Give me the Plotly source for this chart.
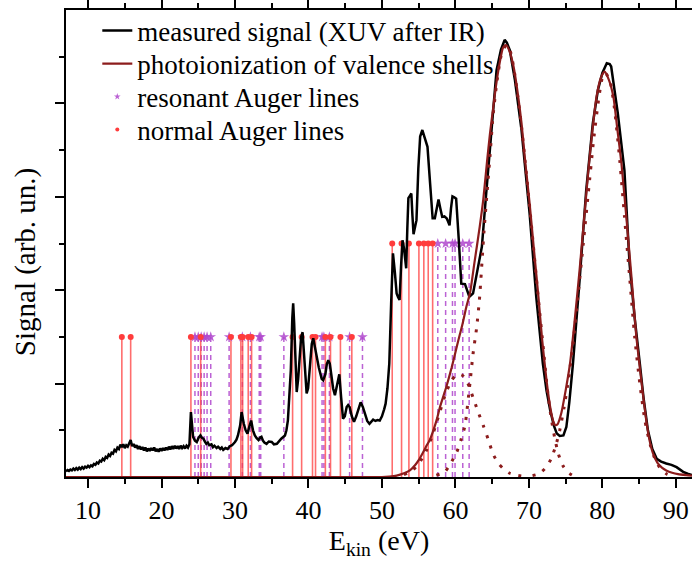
import plotly.graph_objects as go

# ---------------- data ----------------
meas_E = [7.0, 7.2, 7.4, 7.6, 7.8, 8.0, 8.2, 8.4, 8.6, 8.8, 9.0, 9.2, 9.4, 9.6, 9.8, 10.0, 10.2, 10.4, 10.6, 10.8,
          11.0, 11.2, 11.4, 11.6, 11.8, 12.0, 12.2, 12.4, 12.6, 12.8, 13.0, 13.2, 13.4, 13.6, 13.8, 14.0, 14.2, 14.4,
          14.6, 14.8, 15.0, 15.2, 15.4, 15.6, 15.8, 16.0, 16.2, 16.4, 16.6, 16.8, 17.0, 17.2, 17.4, 17.6, 17.8, 18.0,
          18.2, 18.4, 18.6, 18.8, 19.0, 19.2, 19.4, 19.6, 19.8, 20.0, 20.2, 20.4, 20.6, 20.8, 21.0, 21.2, 21.4, 21.6,
          21.8, 22.0, 22.2, 22.4, 22.6, 22.8, 23.0, 23.2, 23.4, 23.6, 23.8, 24.0,
          24.3, 24.55, 24.8, 25.05, 25.3, 25.5, 25.7, 25.9, 26.1, 26.3, 26.5, 26.8, 27.0, 27.2, 27.5, 27.7, 28.0,
          28.2, 28.4, 28.7, 29.0, 29.3, 29.6, 30.0, 30.2, 30.4, 30.7, 30.9, 31.05, 31.2, 31.45, 31.7, 31.95, 32.2,
          32.45, 32.7, 32.95, 33.2, 33.4, 33.6, 33.8, 34.0, 34.3, 34.6, 35.0, 35.3, 35.7, 36.0, 36.3, 36.8, 37.0,
          37.2, 37.4, 37.6, 37.8, 37.92, 38.05, 38.2, 38.4, 38.6, 38.8, 39.0, 39.2, 39.4, 39.6, 39.75, 39.95, 40.2,
          40.45, 40.65, 40.85, 41.1, 41.4, 41.8, 42.0, 42.3, 42.5, 42.7, 42.9, 43.1, 43.35, 43.6, 43.9, 44.2, 44.45,
          44.7, 44.95, 45.2, 45.4, 45.6, 45.9, 46.2, 46.5, 46.8, 47.1, 47.4, 47.7, 48.0, 48.3, 48.6, 48.8, 49.1,
          49.4, 49.7, 50.0, 50.3, 50.5, 50.75, 51.0, 51.25, 51.5, 51.75, 52.0, 52.2, 52.4, 52.6, 52.8, 53.0, 53.15,
          53.3, 53.45, 53.6, 53.8, 54.0, 54.15, 54.3, 54.5, 54.7, 54.95, 55.2, 55.5, 55.85, 56.2, 56.55, 56.9, 57.2,
          57.45, 57.7, 57.95, 58.2, 58.5, 58.8, 59.0, 59.2, 59.4, 59.6, 59.85, 60.1, 60.45, 60.8, 61.3, 61.6, 61.9,
          62.4, 63.0, 63.6, 64.1, 64.7, 65.1, 65.6, 66.2, 66.7, 67.0, 67.4, 68.1, 69.0, 70.1, 71.0, 71.9, 72.4,
          72.9, 73.4, 73.8, 74.2, 74.7, 75.1, 75.5, 76.0, 76.9, 77.8, 78.7, 79.4, 80.0, 80.6, 81.0, 81.2, 82.1,
          83.0, 83.7, 84.4, 85.1, 85.6, 86.2, 86.8, 87.4, 88.0, 88.7, 89.4, 90.1, 90.6, 91.0, 91.6, 92.2]
meas_S = [0.12, 0.15, 0.13, 0.16, 0.14, 0.18, 0.15, 0.19, 0.16, 0.20, 0.17, 0.21, 0.18, 0.22, 0.20, 0.24, 0.21, 0.25,
          0.23, 0.28, 0.26, 0.31, 0.29, 0.35, 0.33, 0.39, 0.36, 0.43, 0.41, 0.48, 0.45, 0.52, 0.50, 0.58, 0.55, 0.63,
          0.60, 0.69, 0.64, 0.70, 0.62, 0.68, 0.65, 0.73, 0.79, 0.66, 0.71, 0.63, 0.68, 0.60, 0.66, 0.59, 0.64, 0.57,
          0.63, 0.55, 0.61, 0.56, 0.62, 0.57, 0.63, 0.55, 0.60, 0.54, 0.61, 0.56, 0.62, 0.57, 0.63, 0.58, 0.65, 0.59,
          0.66, 0.60, 0.67, 0.61, 0.66, 0.60, 0.67, 0.62, 0.66, 0.61, 0.67, 0.63, 0.70, 1.39,
          0.86, 0.78, 0.75, 0.84, 0.89, 0.84, 0.82, 0.76, 0.71, 0.74, 0.68, 0.70, 0.64, 0.67, 0.62, 0.65, 0.60,
          0.63, 0.58, 0.62, 0.60, 0.66, 0.68, 0.75, 0.80, 0.89, 1.10, 1.39, 1.25, 1.14, 1.00, 0.93, 1.08, 1.21,
          1.00, 0.89, 0.83, 0.79, 0.84, 0.86, 0.78, 0.74, 0.71, 0.76, 0.75, 0.70, 0.71, 0.77, 0.82, 0.89, 1.00,
          1.21, 1.70, 2.29, 3.40, 3.72, 3.30, 2.50, 1.82, 2.10, 2.60, 3.00, 3.10, 2.60, 2.00, 1.79, 1.90, 2.40,
          2.85, 2.97, 2.80, 2.64, 2.35, 2.10, 2.07, 2.20, 2.42, 2.50, 2.43, 2.20, 1.90, 1.75, 1.95, 2.20, 1.70,
          1.25, 1.30, 1.50, 1.54, 1.50, 1.30, 1.18, 1.30, 1.45, 1.60, 1.50, 1.35, 1.20, 1.14, 1.20, 1.23, 1.20,
          1.22, 1.21, 1.30, 1.45, 1.57, 1.90, 2.43, 3.70, 4.79, 4.40, 3.93, 3.85, 3.79, 4.50, 5.07, 4.90, 4.60,
          4.47, 5.30, 5.97, 6.02, 6.07, 5.60, 5.20, 5.35, 5.50, 6.60, 7.29, 7.43, 7.25, 7.07, 6.30, 5.54, 5.54,
          5.75, 5.94, 5.75, 5.57, 5.58, 5.54, 5.47, 5.39, 5.75, 6.01, 5.99, 5.96, 5.10, 4.14, 4.13, 3.98, 3.86,
          3.93, 4.40, 4.93, 5.90, 7.07, 7.90, 8.71, 9.15, 9.36, 9.30, 9.14, 8.50, 7.43, 5.64, 3.86, 2.43, 1.85,
          1.43, 1.10, 0.93, 0.88, 0.89, 1.07, 1.60, 2.43, 4.21, 6.14, 7.57, 8.29, 8.65, 8.86, 8.84, 8.79, 7.79,
          6.57, 4.57, 3.40, 2.43, 1.70, 1.00, 0.60, 0.39, 0.33, 0.29, 0.26, 0.21, 0.16, 0.11, 0.07, 0.04]

fit_E = [7.0, 50.0, 51.0, 52.0, 53.0, 53.8, 54.5, 55.0, 55.5, 56.0, 56.5, 57.0, 57.5, 57.9, 58.4, 58.8, 59.5, 60.2,
         60.6, 61.0, 61.5, 62.0, 62.6, 63.3, 63.8, 64.3, 64.7, 65.1, 65.5, 66.0, 66.5, 66.9, 67.4, 67.9, 68.5,
         69.0, 69.5, 70.1, 70.7, 71.3, 71.8, 72.4, 72.9, 73.3, 73.6, 73.9, 74.4, 75.0, 75.6, 76.2, 76.9, 77.5,
         78.1, 78.7, 79.2, 79.8, 80.3, 80.9, 81.5, 82.0, 82.6, 83.3, 84.0, 84.6, 85.3, 85.9, 86.4, 86.9, 87.5,
         88.1, 88.7, 89.5, 90.3, 91.4, 92.2]
fit_S = [0.0, 0.0, 0.01, 0.03, 0.08, 0.14, 0.25, 0.36, 0.50, 0.65, 0.79, 1.00, 1.25, 1.50, 1.75, 1.95, 2.35, 2.80,
         3.05, 3.30, 3.65, 3.95, 4.60, 5.35, 5.95, 6.75, 7.35, 7.85, 8.35, 8.85, 9.20, 9.25, 9.10, 8.80, 8.20,
         7.57, 6.75, 5.86, 4.85, 3.86, 2.95, 2.07, 1.50, 1.20, 1.11, 1.13, 1.36, 1.85, 2.43, 3.30, 4.43, 5.50,
         6.57, 7.50, 8.14, 8.55, 8.68, 8.50, 8.14, 7.50, 6.71, 5.50, 4.21, 3.05, 2.07, 1.30, 0.80, 0.50, 0.30,
         0.20, 0.14, 0.09, 0.06, 0.04, 0.03]

# dotted fit components
compA_E = [53.0, 54.0, 55.0, 56.0, 57.0, 57.8, 58.6, 59.4, 60.0, 60.5, 61.0, 61.7, 62.4, 63.1, 63.8, 64.5, 65.1,
           65.8, 66.5, 67.4, 68.3, 69.5]
compA_S = [0.05, 0.12, 0.28, 0.55, 0.95, 1.35, 1.75, 2.05, 2.17, 2.20, 2.17, 2.00, 1.70, 1.39, 1.10, 0.79, 0.50,
           0.30, 0.18, 0.08, 0.04, 0.01]
compB_E = [57.4, 58.5, 59.2, 60.2, 60.8, 61.3, 62.0, 62.4, 62.9, 63.3, 63.9, 64.7, 65.1, 65.6, 66.2, 66.9, 67.5,
           68.1, 69.0, 70.1, 71.3, 72.0, 72.5, 73.0, 73.5, 74.0, 74.6, 75.3, 76.0]
compB_S = [0.04, 0.10, 0.25, 0.54, 0.82, 1.10, 2.04, 2.64, 3.21, 3.86, 5.28, 6.86, 7.70, 8.40, 9.00, 9.25, 9.10,
           8.60, 7.50, 5.80, 3.80, 2.70, 1.90, 1.30, 0.85, 0.50, 0.25, 0.10, 0.03]
compC_E = [70.5, 71.2, 71.8, 72.4, 73.0, 73.6, 74.2, 74.8, 75.4, 76.0, 76.7, 77.4, 78.1, 78.8, 79.5, 80.0, 80.4,
           81.0, 81.6, 82.3, 83.0, 83.7, 84.4, 85.1, 85.8, 86.5, 87.2, 88.0, 88.8, 89.6]
compC_S = [0.03, 0.06, 0.12, 0.22, 0.38, 0.64, 1.00, 1.50, 2.10, 2.85, 3.90, 5.00, 6.10, 7.20, 8.10, 8.55, 8.65,
           8.50, 7.95, 6.90, 5.60, 4.30, 3.00, 2.00, 1.20, 0.70, 0.37, 0.16, 0.06, 0.02]

# Auger line energies (eV) and marker heights (arb. un.)
normal_E = [14.6, 15.8, 24.0, 25.33, 29.45, 30.8, 31.04, 31.8, 32.26, 37.84, 39.07, 40.55, 40.96, 42.3, 43.0,
            44.35, 45.9, 51.4, 52.67, 53.67, 55.03, 55.7, 56.3, 56.9]
normal_H = [3.0] * 17 + [5.0] * 7
reson_E = [24.55, 25.0, 25.4, 25.8, 26.2, 26.7, 29.2, 31.0, 32.1, 33.3, 33.5, 36.65, 41.85, 42.1, 42.85, 45.6,
           47.35, 57.6, 58.67, 59.6, 59.95, 61.0, 61.87]
reson_H = [3.0] * 17 + [5.0] * 6

x_ticks = [10, 20, 30, 40, 50, 60, 70, 80, 90]

# ---------------- figure ----------------
FONT = "Liberation Serif"
RED_LINE = "rgba(255,60,60,0.75)"
RED_DOT = "rgb(255,60,60)"
PURPLE = "rgba(175,70,205,0.85)"
DARKRED = "#8c1c1c"


def sticks(es, hs):
    xs, ys = [], []
    for e, h in zip(es, hs):
        xs += [e, e, None]
        ys += [0, h, None]
    return xs, ys


fig = go.Figure()

rx, ry = sticks(reson_E, reson_H)
fig.add_trace(go.Scatter(x=rx, y=ry, mode="lines", showlegend=False, hoverinfo="skip",
                         line=dict(color=PURPLE, width=1.5, dash="5px,4px")))
nx, ny = sticks(normal_E, normal_H)
fig.add_trace(go.Scatter(x=nx, y=ny, mode="lines", showlegend=False, hoverinfo="skip",
                         line=dict(color=RED_LINE, width=1.6)))
fig.add_trace(go.Scatter(x=reson_E, y=reson_H, mode="markers", showlegend=False,
                         marker=dict(symbol="star", size=8, color=PURPLE, line=dict(width=0))))
fig.add_trace(go.Scatter(x=normal_E, y=normal_H, mode="markers", showlegend=False,
                         marker=dict(symbol="circle", size=6, color=RED_DOT, line=dict(width=0))))

fig.add_trace(go.Scatter(x=meas_E, y=meas_S, mode="lines", name="measured signal (XUV after IR)",
                         legend="legend", line=dict(color="black", width=2.5)))
fig.add_trace(go.Scatter(x=fit_E, y=fit_S, mode="lines", name="photoionization of valence shells",
                         legend="legend2",
                         line=dict(color=DARKRED, width=2.2, shape="spline", smoothing=0.6)))
for ce, cs in [(compA_E, compA_S), (compB_E, compB_S), (compC_E, compC_S)]:
    fig.add_trace(go.Scatter(x=ce, y=cs, mode="lines", showlegend=False, hoverinfo="skip",
                             line=dict(color=DARKRED, width=3, dash="3px,8px", shape="spline", smoothing=0.6)))

# legend-only entries
fig.add_trace(go.Scatter(x=[None], y=[None], mode="markers", name="resonant Auger lines", legend="legend3",
                         marker=dict(symbol="star", size=5, color=PURPLE)))
fig.add_trace(go.Scatter(x=[None], y=[None], mode="markers", name="normal Auger lines", legend="legend4",
                         marker=dict(symbol="circle", size=4, color=RED_DOT)))


def leg(y):
    return dict(x=0.05, y=y, xanchor="left", yanchor="top", bgcolor="rgba(0,0,0,0)",
                font=dict(family=FONT, size=27, color="black"), itemsizing="trace")


fig.update_layout(
    width=692, height=563,
    margin=dict(l=66, r=0, t=10, b=86),
    paper_bgcolor="white", plot_bgcolor="white",
    font=dict(family=FONT, size=26, color="black"),
    showlegend=True,
    legend=leg(1.0075), legend2=leg(0.9368), legend3=leg(0.8661), legend4=leg(0.7954),
    xaxis=dict(range=[7, 92.2], tickvals=x_ticks, ticks="outside", ticklen=9, tickwidth=1.5,
               tickcolor="black", showline=True, linecolor="black", linewidth=2, mirror="ticks",
               showgrid=False, zeroline=False,
               minor=dict(dtick=5, tick0=5, ticks="outside", ticklen=5, tickwidth=1.5, tickcolor="black"),
               tickfont=dict(family=FONT, size=26),
               title=dict(text="E<sub>kin</sub> (eV)", font=dict(family=FONT, size=28), standoff=4)),
    yaxis=dict(range=[0, 10], tickvals=[2, 4, 6, 8], showticklabels=False, ticks="outside", ticklen=9,
               tickwidth=1.5, tickcolor="black", showline=True, linecolor="black", linewidth=2,
               showgrid=False, zeroline=False,
               minor=dict(tickvals=[1, 3, 5, 7, 9], ticks="outside", ticklen=5, tickwidth=1.5, tickcolor="black")),
    annotations=[dict(text="Signal (arb. un.)", textangle=-90, xref="paper", yref="paper",
                      x=-0.0655, y=0.46, xanchor="center", yanchor="middle", showarrow=False,
                      font=dict(family=FONT, size=29, color="black"))],
)

fig.write_html("out.html")
